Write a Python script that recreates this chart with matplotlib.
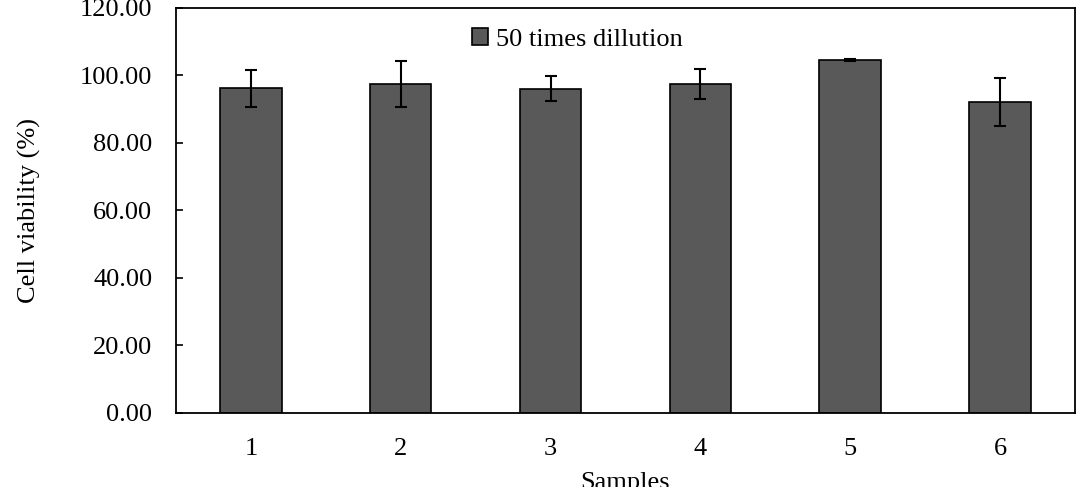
import matplotlib.pyplot as plt
import numpy as np

# --- Data ---
samples = ['1', '2', '3', '4', '5', '6']
viability = [96.2, 97.5, 96.1, 97.5, 104.5, 92.1]
errors = [5.4, 6.9, 3.6, 4.4, 0.3, 7.2]
y_ticks = [0, 20, 40, 60, 80, 100, 120]

plt.rcParams['font.family'] = ['Liberation Serif', 'DejaVu Serif']

fig = plt.figure(figsize=(10.89, 4.87), dpi=100)
ax = fig.add_axes([0.1616, 0.152, 0.8255, 0.8316])

x = np.arange(len(samples))
ax.bar(x, viability, width=0.41, color='#595959', edgecolor='black',
       linewidth=1.2, label='50 times dillution', zorder=2)
ax.errorbar(x, viability, yerr=errors, fmt='none', ecolor='black',
            elinewidth=1.5, capsize=4.5, capthick=1.5, zorder=3)

ax.set_xlim(-0.5, len(samples) - 0.5)
ax.set_ylim(0, 120)
ax.set_yticks(y_ticks)
ax.set_yticklabels([f'{v:.2f}' for v in y_ticks])
ax.set_xticks(x)
ax.set_xticklabels(samples)

ax.tick_params(axis='y', direction='in', length=5, width=1.2, labelsize=19, pad=17)
ax.tick_params(axis='x', length=0, labelsize=19, pad=18)
for s in ax.spines.values():
    s.set_linewidth(1.3)

ax.set_ylabel('Cell viability (%)', fontsize=19, labelpad=28)
ax.set_xlabel('Samples', fontsize=19, labelpad=9)

ax.legend(loc='upper left', bbox_to_anchor=(0.312, 0.99), frameon=False,
          fontsize=19, handlelength=0.6, handleheight=0.6, handletextpad=0.3,
          borderaxespad=0.2)

plt.savefig('out.png', dpi=100)
